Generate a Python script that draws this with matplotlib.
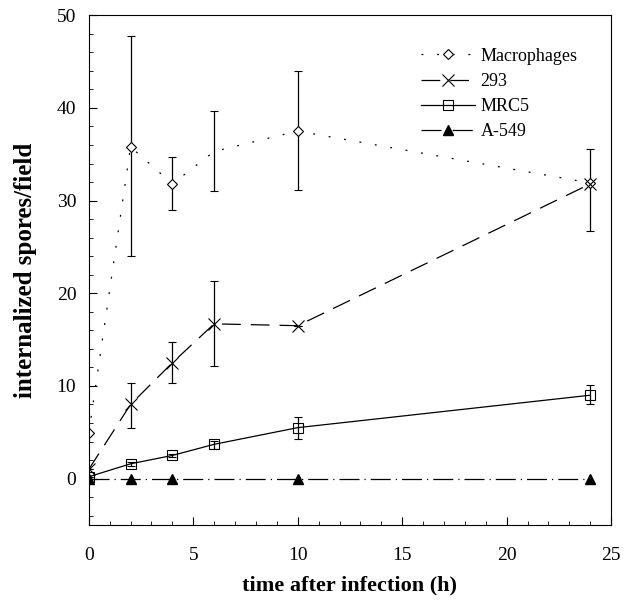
import numpy as np
import matplotlib
matplotlib.use("Agg")
import matplotlib.pyplot as plt
from matplotlib.ticker import MultipleLocator

plt.rcParams['font.family'] = ['Liberation Serif', 'DejaVu Serif']

# data
t = [0, 2, 4, 6, 10, 24]
macro = [4.9, 35.8, 31.8, 35.3, 37.5, 31.9]
macro_lo = [4.9, 24.0, 29.0, 31.0, 31.1, 31.9]
macro_hi = [4.9, 47.8, 34.7, 39.7, 44.0, 31.9]

h293 = [1.0, 8.0, 12.5, 16.7, 16.5, 31.8]
h293_lo = [1.0, 5.5, 10.3, 12.1, 16.5, 26.7]
h293_hi = [1.0, 10.3, 14.7, 21.3, 16.5, 35.6]

t_mrc = [0, 2, 4, 6, 10, 24]
mrc5 = [0.2, 1.6, 2.5, 3.7, 5.5, 9.0]
mrc5_lo = [0.2, 1.4, 2.3, 3.2, 4.3, 8.0]
mrc5_hi = [0.2, 1.8, 2.7, 4.1, 6.6, 10.1]

t_a549 = [0, 2, 4, 10, 24]
a549 = [0.0, 0.0, 0.0, 0.0, 0.0]

fig = plt.figure(figsize=(6.34, 6.09), dpi=100)
ax = fig.add_axes([0.140, 0.138, 0.824, 0.837])

def yerr(v, lo, hi):
    v = np.array(v); return [v - np.array(lo), np.array(hi) - v]

c1 = ax.errorbar(t, macro, yerr=yerr(macro, macro_lo, macro_hi), color='black', lw=0.9,
                 ls=(0, (1.5, 11)), marker='D', ms=5, mfc='white', mec='black', mew=0.8,
                 elinewidth=0.9, capsize=3, markevery=[0, 1, 2, 4, 5])
c2 = ax.errorbar(t, h293, yerr=yerr(h293, h293_lo, h293_hi), color='black', lw=0.9,
                 ls=(0, (15, 8)), marker='x', ms=9, mew=0.8, elinewidth=0.9, capsize=3)
c3 = ax.errorbar(t_mrc, mrc5, yerr=yerr(mrc5, mrc5_lo, mrc5_hi), color='black', lw=0.9,
                 ls='-', marker='s', ms=7, mfc='none', mec='black', mew=0.8,
                 elinewidth=0.9, capsize=3)
l4, = ax.plot(t_a549, a549, color='black', lw=0.9, ls=(0, (16, 4, 1, 4)), marker='^',
              ms=7, mfc='black')

ax.set_xlim(0, 25)
ax.set_ylim(-5, 50)
ax.xaxis.set_major_locator(MultipleLocator(5))
ax.xaxis.set_minor_locator(MultipleLocator(1))
ax.yaxis.set_major_locator(MultipleLocator(10))
ax.yaxis.set_minor_locator(MultipleLocator(2))
ax.tick_params(which='both', direction='in', labelsize=14)
ax.tick_params(axis='x', which='major', pad=16, length=6)
ax.tick_params(axis='y', which='major', pad=9, length=6)
ax.tick_params(which='minor', length=3)

ax.set_xlabel('time after infection (h)', fontsize=16, fontweight='bold', labelpad=8)
ax.set_ylabel('internalized spores/field', fontsize=18, fontweight='bold', labelpad=14)

ax.legend([c1.lines[0], c2.lines[0], c3.lines[0], l4],
          ['Macrophages', '293', 'MRC5', 'A-549'],
          loc='upper right', frameon=False, fontsize=13, handlelength=3.0,
          handletextpad=0.3, labelspacing=0.45, borderaxespad=1.4,
          bbox_to_anchor=(0.998, 1.0))

fig.savefig('out.png', dpi=100)
